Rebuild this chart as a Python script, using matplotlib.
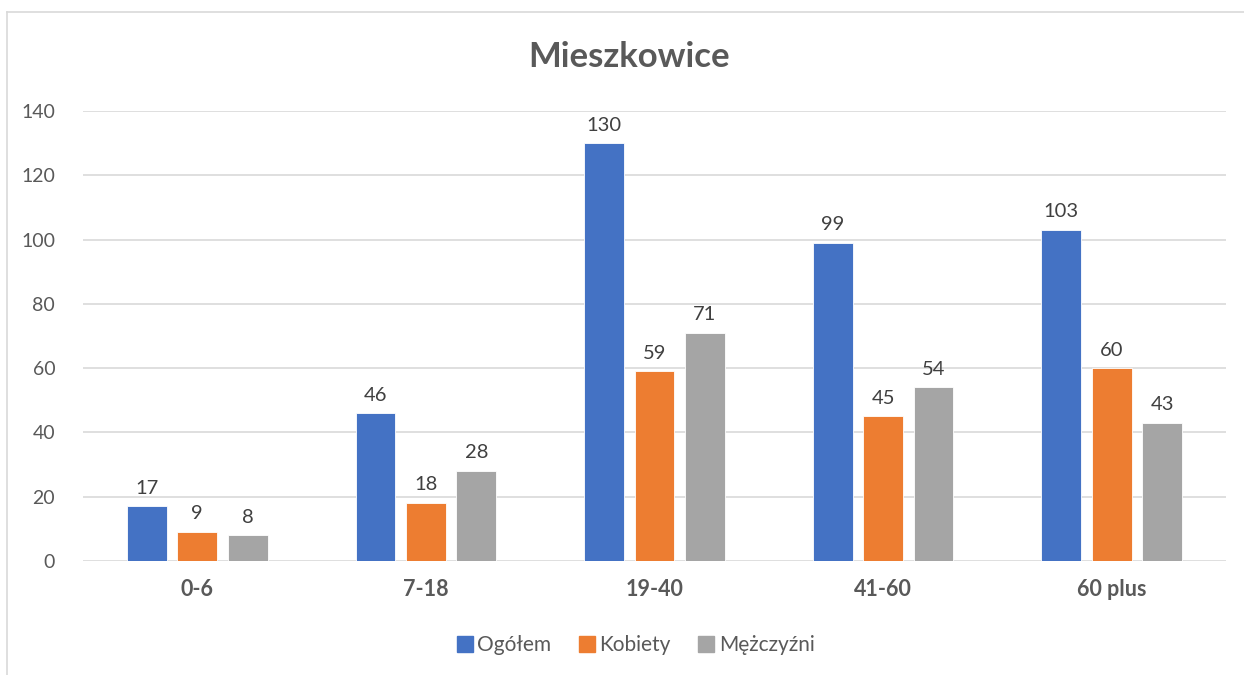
import matplotlib
matplotlib.use("Agg")
import matplotlib.pyplot as plt
import numpy as np
from matplotlib.lines import Line2D

categories = ["0-6", "7-18", "19-40", "41-60", "60 plus"]
series_names = ["Ogółem", "Kobiety", "Mężczyźni"]
ogolem = [17, 46, 130, 99, 103]
kobiety = [9, 18, 59, 45, 60]
mezczyzni = [8, 28, 71, 54, 43]
colors = ["#4472C4", "#ED7D31", "#A5A5A5"]
title = "Mieszkowice"
yticks = [0, 20, 40, 60, 80, 100, 120, 140]

plt.rcParams['font.family'] = ['Lato', 'DejaVu Sans']
txt = "#595959"

fig = plt.figure(figsize=(12.44, 6.75), dpi=100)
ax = fig.add_axes([83/1244, 1-561/675, (1226-83)/1244, (561-111)/675])

x = np.arange(len(categories))
width = 40/229
pitch = 50.5/229
for i, (vals, name, c) in enumerate(zip([ogolem, kobiety, mezczyzni], series_names, colors)):
    pos = x + (i-1)*pitch
    bars = ax.bar(pos, vals, width, color=c, label=name, edgecolor="white", linewidth=0.6, zorder=3)
    for b, v in zip(bars, vals):
        ax.text(b.get_x()+b.get_width()/2, v + 3, str(v), ha="center", va="bottom",
                fontsize=14.5, color="#404040")

ax.set_xlim(-0.5, 4.5)
ax.set_ylim(0, 140)
ax.set_yticks(yticks)
ax.set_xticks(x)
ax.set_xticklabels(categories, fontsize=15.5, fontweight="bold", color=txt)
ax.tick_params(axis="y", labelsize=14, colors=txt, length=0, pad=20)
ax.tick_params(axis="x", length=0, pad=13)
ax.grid(axis="y", color="#D9D9D9", linewidth=1.2, zorder=0)
for s in ax.spines.values():
    s.set_visible(False)

fig.text(0.5055, 1-57/675, title, ha="center", va="center", fontsize=25, fontweight="bold", color=txt)

handles = [Line2D([0], [0], marker="s", linestyle="none", markersize=11,
                  markerfacecolor=c, markeredgecolor=c) for c in colors]
fig.legend(handles, series_names, loc="center", bbox_to_anchor=(0.51, 1-645/675), ncol=3,
           frameon=False, fontsize=15, labelcolor=txt, handletextpad=0.1, columnspacing=1.2,
           handlelength=1.0)

# outer frame (left and top)
fig.add_artist(Line2D([7/1244, 7/1244], [0, 1-12/675], transform=fig.transFigure, color="#D9D9D9", linewidth=1.2))
fig.add_artist(Line2D([7/1244, 1], [1-12/675, 1-12/675], transform=fig.transFigure, color="#D9D9D9", linewidth=1.2))

fig.savefig("out.png", dpi=100)
